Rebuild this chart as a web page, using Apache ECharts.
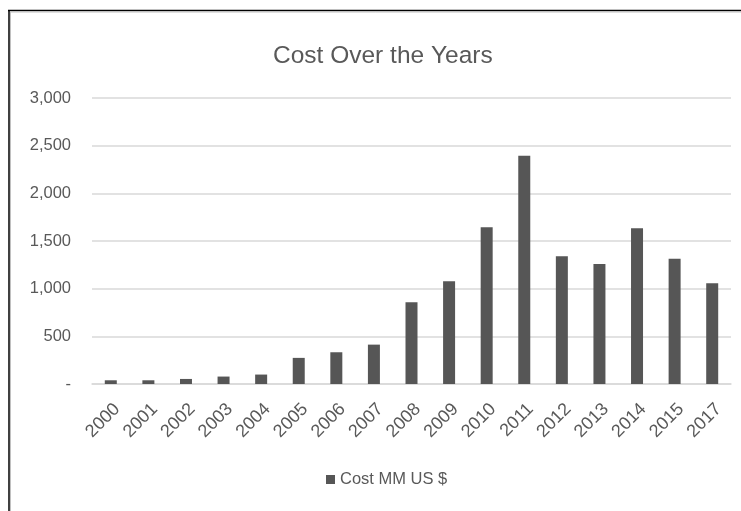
<!DOCTYPE html>
<html>
<head>
<meta charset="utf-8">
<style>
  html, body { margin: 0; padding: 0; background: #ffffff; }
  #chart { width: 741px; height: 511px; }
</style>
<script src="https://cdn.jsdelivr.net/npm/echarts@6/dist/echarts.min.js"></script>
</head>
<body>
<div id="chart"></div>
<script>
// Yearly cost, millions of US dollars
const years = ['2000', '2001', '2002', '2003', '2004', '2005', '2006', '2007', '2008',
               '2009', '2010', '2011', '2012', '2013', '2014', '2015', '2017'];
const costs = [39, 39, 53, 78, 99, 274, 333, 413, 858, 1077, 1645, 2395, 1340, 1260, 1633, 1315, 1056];
const seriesName = 'Cost MM US $';
const yTicks = [0, 500, 1000, 1500, 2000, 2500, 3000];

const textColor = '#595959';
const gridColor = '#d9d9d9';
const font = 'Liberation Sans';

const chart = echarts.init(document.getElementById('chart'), null, { renderer: 'canvas' });

chart.setOption({
  backgroundColor: '#ffffff',
  animation: false,
  title: {
    text: 'Cost Over the Years',
    left: 268,
    top: 39,
    textStyle: { fontFamily: font, fontSize: 24.5, fontWeight: 'normal', color: textColor }
  },
  legend: {
    data: [seriesName],
    bottom: 18,
    left: 321,
    icon: 'rect',
    itemWidth: 9,
    itemHeight: 9,
    itemGap: 10,
    textStyle: { fontFamily: font, fontSize: 16.5, color: textColor }
  },
  grid: { left: 92, right: 10, top: 98, bottom: 127, containLabel: false },
  xAxis: {
    type: 'category',
    data: years,
    axisLine: { lineStyle: { color: gridColor, width: 1.5 } },
    axisTick: { show: false },
    axisLabel: {
      rotate: 45,
      margin: 16,
      verticalAlign: 'top',
      fontFamily: font,
      fontSize: 18,
      color: textColor
    }
  },
  yAxis: {
    type: 'value',
    min: yTicks[0],
    max: yTicks[yTicks.length - 1],
    interval: 500,
    axisLine: { show: false },
    axisTick: { show: false },
    splitLine: { lineStyle: { color: gridColor, width: 1.5 } },
    axisLabel: {
      margin: 21,
      fontFamily: font,
      fontSize: 16.5,
      color: textColor,
      formatter: v => (v === 0 ? '-' : v.toLocaleString('en-US'))
    }
  },
  series: [{
    name: seriesName,
    type: 'bar',
    data: costs,
    barWidth: 12,
    itemStyle: { color: '#565656' }
  }],
  graphic: [
    // frame around the chart area
    { type: 'line', shape: { x1: 9, y1: 10, x2: 9, y2: 511 }, style: { stroke: '#000000', lineWidth: 1.5 }, silent: true },
    { type: 'line', shape: { x1: 8, y1: 10.5, x2: 741, y2: 10.5 }, style: { stroke: '#000000', lineWidth: 1.5 }, silent: true },
    { type: 'line', shape: { x1: 10.5, y1: 12, x2: 10.5, y2: 511 }, style: { stroke: '#c0c0c0', lineWidth: 1 }, silent: true },
    { type: 'line', shape: { x1: 10.5, y1: 12, x2: 741, y2: 12 }, style: { stroke: '#c0c0c0', lineWidth: 1 }, silent: true }
  ]
});
</script>
</body>
</html>
